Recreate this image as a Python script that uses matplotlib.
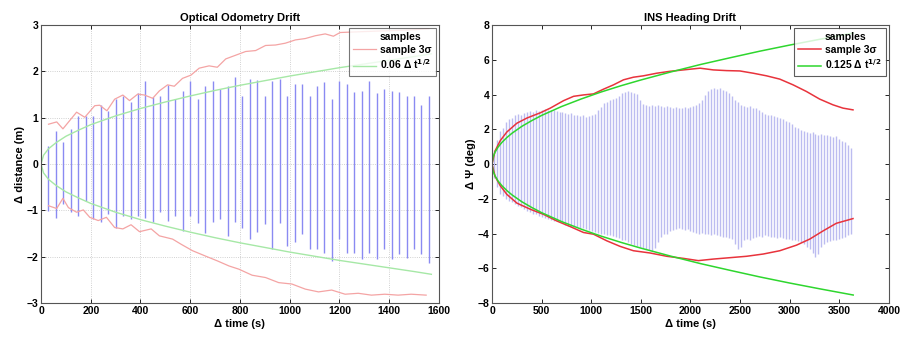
import matplotlib
matplotlib.use("Agg")
import matplotlib.pyplot as plt
from matplotlib.lines import Line2D

plt.rcParams["font.family"] = ["Liberation Sans", "DejaVu Sans"]
plt.rcParams["font.weight"] = "bold"
plt.rcParams["mathtext.default"] = "bf"

# ---- Optical odometry: sample spread bars (every 30 s) ----
odo_t = list(range(30, 1561, 30))
odo_top = [0.40, 0.72, 0.48, 0.76, 1.03, 1.04, 1.04, 1.27, 1.15, 1.40,
           1.46, 1.35, 1.53, 1.80, 1.44, 1.47, 1.71, 1.40, 1.58, 1.80,
           1.40, 1.69, 1.80, 1.63, 1.69, 1.87, 1.48, 1.84, 1.82, 1.48,
           1.80, 1.84, 1.47, 1.73, 1.73, 1.48, 1.69, 1.78, 1.40, 1.80,
           1.73, 1.55, 1.58, 1.80, 1.53, 1.62, 1.58, 1.55, 1.48, 1.47,
           1.27, 1.47]
odo_bot = [-1.01, -1.17, -0.86, -1.04, -1.12, -0.79, -1.19, -1.26, -1.08, -1.37,
           -1.12, -1.19, -1.12, -1.17, -1.26, -1.04, -1.24, -1.12, -1.44, -1.12,
           -1.27, -1.49, -1.26, -1.19, -1.55, -1.26, -1.37, -1.62, -1.46, -1.30,
           -1.84, -1.28, -1.76, -1.68, -1.51, -1.84, -1.83, -1.91, -2.09, -1.62,
           -1.91, -1.91, -2.05, -1.91, -2.05, -1.84, -2.06, -1.95, -2.02, -1.84,
           -1.95, -2.14]

# sample 3-sigma envelope
odo_up_t = [30, 63, 88, 143, 176, 216, 236, 265, 296, 329, 356, 389, 416, 449,
            476, 509, 536, 569, 603, 636, 676, 709, 743, 783, 823, 863, 903,
            943, 983, 1023, 1063, 1103, 1143, 1176, 1203, 1300, 1400, 1500, 1560]
odo_up = [0.86, 0.91, 0.76, 1.12, 1.01, 1.26, 1.27, 1.15, 1.40, 1.49, 1.37,
          1.51, 1.49, 1.42, 1.58, 1.71, 1.68, 1.85, 1.92, 2.07, 2.12, 2.09,
          2.27, 2.35, 2.43, 2.45, 2.56, 2.57, 2.61, 2.68, 2.71, 2.77, 2.81,
          2.76, 2.84, 2.86, 2.88, 2.90, 2.92]
odo_lo_t = [30, 63, 88, 110, 143, 170, 196, 230, 263, 296, 329, 362, 396, 443,
            476, 529, 563, 609, 663, 709, 756, 796, 849, 903, 956, 1009, 1063,
            1116, 1169, 1223, 1276, 1329, 1383, 1436, 1489, 1549]
odo_lo = [-0.90, -0.96, -0.74, -0.94, -1.04, -0.99, -1.15, -1.22, -1.15,
          -1.37, -1.40, -1.31, -1.46, -1.40, -1.55, -1.62, -1.73, -1.87, -1.99,
          -2.09, -2.20, -2.27, -2.40, -2.45, -2.56, -2.59, -2.70, -2.76, -2.72,
          -2.81, -2.79, -2.83, -2.81, -2.83, -2.81, -2.83]

# 0.06 sqrt(dt) reference
odo_ref_t = [0, 10, 30, 60, 100, 150, 200, 300, 400, 500, 600, 700, 800, 900,
             1000, 1100, 1200, 1300, 1400, 1500, 1570]
odo_ref = [0.0, 0.19, 0.33, 0.46, 0.60, 0.73, 0.85, 1.04, 1.20, 1.34, 1.47,
           1.59, 1.70, 1.80, 1.90, 1.99, 2.08, 2.16, 2.24, 2.32, 2.38]

# ---- INS heading: sample spread bars (every 30 s) ----
ins_t = list(range(20, 3621, 30))
ins_top = [0.80, 1.40, 1.90, 2.10, 2.40, 2.60, 2.65, 2.80, 2.90, 2.85,
           2.95, 3.00, 3.05, 3.00, 3.10, 3.05, 3.10, 3.15, 3.10, 3.12,
           3.10, 3.05, 3.00, 3.02, 2.95, 2.90, 2.95, 2.85, 2.80, 2.75,
           2.80, 2.70, 2.75, 2.80, 2.90, 3.10, 3.30, 3.50, 3.60, 3.70,
           3.75, 3.80, 3.90, 4.10, 4.15, 4.20, 4.15, 4.10, 4.05, 3.70,
           3.45, 3.40, 3.35, 3.40, 3.35, 3.40, 3.35, 3.30, 3.35, 3.30,
           3.25, 3.30, 3.25, 3.20, 3.30, 3.25, 3.30, 3.35, 3.40, 3.50,
           3.70, 4.00, 4.20, 4.30, 4.35, 4.30, 4.35, 4.25, 4.20, 4.10,
           3.90, 3.70, 3.55, 3.40, 3.35, 3.30, 3.35, 3.20, 3.25, 3.10,
           3.00, 2.90, 2.85, 2.80, 2.75, 2.70, 2.65, 2.60, 2.50, 2.40,
           2.30, 2.15, 2.05, 1.95, 1.90, 1.85, 1.80, 1.85, 1.75, 1.70,
           1.75, 1.65, 1.70, 1.60, 1.55, 1.60, 1.45, 1.35, 1.25, 1.10,
           0.95]
ins_bot = [-0.80, -1.30, -1.70, -1.85, -2.00, -2.10, -2.20, -2.30, -2.40, -2.50,
           -2.60, -2.70, -2.75, -2.85, -2.90, -3.00, -3.05, -3.10, -3.15, -3.20,
           -3.25, -3.30, -3.35, -3.40, -3.50, -3.55, -3.60, -3.60, -3.65, -3.70,
           -3.70, -3.75, -3.80, -3.85, -3.90, -3.95, -4.00, -4.05, -4.10, -4.10,
           -4.15, -4.20, -4.25, -4.35, -4.40, -4.50, -4.60, -4.65, -4.70, -4.80,
           -4.85, -4.90, -4.95, -5.00, -4.85, -4.50, -4.20, -4.05, -4.00, -3.85,
           -3.80, -3.75, -3.70, -3.75, -3.80, -3.75, -3.85, -3.90, -3.95, -4.00,
           -3.95, -4.05, -4.00, -4.10, -4.05, -4.10, -4.15, -4.20, -4.20, -4.25,
           -4.30, -4.60, -4.90, -4.75, -4.40, -4.30, -4.35, -4.25, -4.20, -4.15,
           -4.20, -4.10, -4.15, -4.20, -4.20, -4.25, -4.20, -4.25, -4.30, -4.30,
           -4.35, -4.40, -4.45, -4.50, -4.60, -4.75, -4.90, -5.10, -5.35, -5.20,
           -4.80, -4.60, -4.50, -4.45, -4.40, -4.35, -4.30, -4.25, -4.20, -4.10,
           -4.00]

ins_up_t = [0, 30, 83, 150, 250, 352, 486, 587, 721, 822, 922, 1023, 1123,
            1224, 1325, 1425, 1526, 1660, 1794, 1928, 2096, 2230, 2364, 2498,
            2632, 2766, 2900, 3034, 3168, 3302, 3436, 3537, 3638]
ins_up = [0.0, 0.75, 1.35, 1.85, 2.35, 2.65, 2.95, 3.22, 3.65, 3.90, 3.98,
          4.04, 4.31, 4.56, 4.85, 5.00, 5.08, 5.23, 5.34, 5.42, 5.52, 5.42,
          5.38, 5.36, 5.23, 5.08, 4.89, 4.56, 4.18, 3.74, 3.41, 3.22, 3.12]
ins_lo_t = [0, 30, 83, 150, 251, 385, 520, 654, 788, 922, 1023, 1157, 1291,
            1425, 1593, 1761, 1928, 2079, 2230, 2398, 2565, 2733, 2900, 3068,
            3202, 3336, 3470, 3638]
ins_lo = [0.0, -0.70, -1.25, -1.75, -2.25, -2.60, -2.90, -3.28, -3.60, -3.94,
          -4.04, -4.42, -4.74, -4.99, -5.12, -5.31, -5.43, -5.56, -5.47, -5.39,
          -5.31, -5.18, -4.99, -4.67, -4.32, -3.85, -3.41, -3.14]

ins_ref_t = [0, 10, 30, 60, 100, 150, 200, 300, 400, 500, 700, 900, 1100,
             1300, 1500, 1800, 2100, 2400, 2700, 3000, 3300, 3640]
ins_ref = [0.0, 0.40, 0.68, 0.97, 1.25, 1.53, 1.77, 2.17, 2.50, 2.80, 3.31,
           3.75, 4.15, 4.51, 4.84, 5.30, 5.73, 6.12, 6.50, 6.85, 7.18, 7.54]


def style_axes(ax, grid_alpha):
    ax.tick_params(direction="in", top=True, right=True, labelsize=7.5,
                   length=3, width=0.6, pad=2)
    for lab in ax.get_xticklabels() + ax.get_yticklabels():
        lab.set_fontweight("bold")
    for sp in ax.spines.values():
        sp.set_color("#555555")
        sp.set_linewidth(0.8)
    if grid_alpha > 0:
        ax.grid(True, linestyle=":", color="#bbbbbb", linewidth=0.6,
                alpha=grid_alpha)


fig = plt.figure(figsize=(9.02, 3.41), dpi=100)
ax1 = fig.add_axes([0.0455, 0.1114, 0.441, 0.815])
ax2 = fig.add_axes([0.5455, 0.1114, 0.440, 0.815])

# left panel
ax1.vlines(odo_t, odo_bot, odo_top, color="#8a8af2", linewidth=1.0)
ax1.plot(odo_up_t, odo_up, color="#f4a4a4", linewidth=0.9)
ax1.plot(odo_lo_t, odo_lo, color="#f4a4a4", linewidth=0.9)
ax1.plot(odo_ref_t, odo_ref, color="#a6e8a6", linewidth=1.0)
ax1.plot(odo_ref_t, [-v for v in odo_ref], color="#a6e8a6", linewidth=1.0)
ax1.set_xlim(0, 1600)
ax1.set_ylim(-3, 3)
ax1.set_xticks(range(0, 1601, 200))
ax1.set_yticks(range(-3, 4))
ax1.set_title("Optical Odometry Drift", fontsize=8, fontweight="bold", pad=3)
ax1.set_xlabel("Δ time (s)", fontsize=8, fontweight="bold", labelpad=2)
ax1.set_ylabel("Δ distance (m)", fontsize=8, fontweight="bold", labelpad=1)
style_axes(ax1, 0.9)
h1 = [Line2D([], [], color="none"),
      Line2D([], [], color="#f4a4a4", linewidth=0.9),
      Line2D([], [], color="#a6e8a6", linewidth=1.0)]
leg1 = ax1.legend(h1, ["samples", "sample 3σ", "0.06 Δ t$^{1/2}$"],
                  loc="upper right", fontsize=7.5, frameon=True, fancybox=False,
                  borderaxespad=0.3, handlelength=2.2, handletextpad=0.4,
                  labelspacing=0.25, borderpad=0.4)
leg1.get_frame().set_edgecolor("#555555")
leg1.get_frame().set_linewidth(0.8)
for txt in leg1.get_texts():
    txt.set_fontweight("bold")

# right panel
ax2.vlines(ins_t, ins_bot, ins_top, color="#bcbcf0", linewidth=1.0)
ax2.plot(ins_up_t, ins_up, color="#e8333c", linewidth=1.1)
ax2.plot(ins_lo_t, ins_lo, color="#e8333c", linewidth=1.1)
ax2.plot(ins_ref_t, ins_ref, color="#2ed62e", linewidth=1.1)
ax2.plot(ins_ref_t, [-v for v in ins_ref], color="#2ed62e", linewidth=1.1)
ax2.set_xlim(0, 4000)
ax2.set_ylim(-8, 8)
ax2.set_xticks(range(0, 4001, 500))
ax2.set_yticks(range(-8, 9, 2))
ax2.set_title("INS Heading Drift", fontsize=8, fontweight="bold", pad=3)
ax2.set_xlabel("Δ time (s)", fontsize=8, fontweight="bold", labelpad=2)
ax2.set_ylabel("Δ Ψ (deg)", fontsize=8, fontweight="bold", labelpad=1)
style_axes(ax2, 0.0)
h2 = [Line2D([], [], color="none"),
      Line2D([], [], color="#e8333c", linewidth=1.1),
      Line2D([], [], color="#2ed62e", linewidth=1.1)]
leg2 = ax2.legend(h2, ["samples", "sample 3σ", "0.125 Δ t$^{1/2}$"],
                  loc="upper right", fontsize=7.5, frameon=True, fancybox=False,
                  borderaxespad=0.3, handlelength=2.2, handletextpad=0.4,
                  labelspacing=0.25, borderpad=0.4)
leg2.get_frame().set_edgecolor("#333333")
leg2.get_frame().set_linewidth(0.8)
for txt in leg2.get_texts():
    txt.set_fontweight("bold")

fig.savefig("out.png", dpi=100)
